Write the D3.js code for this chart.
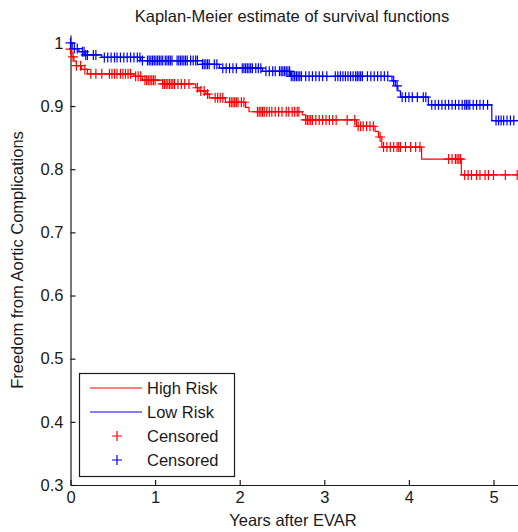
<!DOCTYPE html>
<html>
<head>
<meta charset="utf-8">
<script src="https://cdn.jsdelivr.net/npm/d3@7"></script>
<style>
  html, body { margin: 0; padding: 0; background: #fff; }
  svg { display: block; }
  text { font-family: "Liberation Sans", Arial, Helvetica, sans-serif; fill: #1a1a1a; }
</style>
</head>
<body>
<svg id="chart" width="518" height="532"></svg>
<script>
// Kaplan-Meier step curves: event times (years) and survival after each step
const highRiskTimes    = [0, 0.015, 0.04, 0.07, 0.13, 0.2, 0.75, 0.85, 1.09, 1.48, 1.52, 1.6, 1.64, 1.83, 2.07, 2.11, 2.74, 2.78, 3.38, 3.6, 3.64, 3.68, 4.15, 4.62];
const highRiskSurvival = [0.99, 0.978, 0.971, 0.964, 0.958, 0.951, 0.947, 0.941, 0.935, 0.929, 0.924, 0.919, 0.913, 0.906, 0.898, 0.891, 0.886, 0.878, 0.868, 0.860, 0.851, 0.835, 0.816, 0.791];

const lowRiskTimes    = [0, 0.02, 0.1, 0.17, 0.37, 0.83, 1.56, 1.76, 2.27, 2.6, 3.8, 3.84, 3.87, 3.9, 4.23, 4.98];
const lowRiskSurvival = [1.0, 0.991, 0.986, 0.981, 0.977, 0.972, 0.966, 0.960, 0.955, 0.947, 0.940, 0.932, 0.924, 0.914, 0.902, 0.877];

// Censoring times (years)
const highRiskCensored = [0, 0.03, 0.07, 0.12, 0.17, 0.24, 0.3, 0.37, 0.46, 0.49, 0.52, 0.55, 0.59, 0.62, 0.65, 0.68, 0.71,
  0.77, 0.8, 0.83, 0.88, 0.9, 0.92, 0.94, 0.96, 0.98, 1.0, 1.09, 1.11, 1.13, 1.15, 1.17, 1.19, 1.21, 1.23, 1.27, 1.31, 1.35,
  1.4, 1.5, 1.54, 1.58, 1.62, 1.71, 1.74, 1.77, 1.8, 1.88, 1.9, 1.92, 1.94, 1.96, 1.98, 2.02, 2.05, 2.21, 2.23, 2.25, 2.27,
  2.29, 2.32, 2.35, 2.38, 2.42, 2.46, 2.5, 2.55, 2.58, 2.62, 2.65, 2.68, 2.7, 2.78, 2.8, 2.82, 2.84, 2.86, 2.9, 2.94, 2.98,
  3.02, 3.06, 3.1, 3.14, 3.27, 3.36, 3.4, 3.43, 3.46, 3.5, 3.54, 3.58, 3.66, 3.7, 3.74, 3.78, 3.82, 3.86, 3.88, 3.9, 3.96,
  4.02, 4.08, 4.13, 4.47, 4.51, 4.55, 4.57, 4.59, 4.61, 4.66, 4.7, 4.74, 4.8, 4.84, 4.9, 4.94, 5.0, 5.14, 5.28];

const lowRiskCensored = [0, 0.045, 0.08, 0.14, 0.16, 0.18, 0.2, 0.27, 0.3, 0.40, 0.44, 0.48, 0.52, 0.55, 0.59, 0.63, 0.67,
  0.71, 0.75, 0.79, 0.82, 0.85, 0.91, 0.93, 0.95, 0.97, 0.99, 1.01, 1.03, 1.05, 1.07, 1.09, 1.12, 1.14, 1.16, 1.18, 1.2,
  1.26, 1.28, 1.3, 1.32, 1.34, 1.36, 1.38, 1.42, 1.45, 1.48, 1.5, 1.56, 1.58, 1.6, 1.62, 1.64, 1.7, 1.73, 1.8, 1.84, 1.88,
  1.92, 1.96, 2.03, 2.05, 2.07, 2.09, 2.11, 2.13, 2.15, 2.19, 2.22, 2.25, 2.31, 2.35, 2.39, 2.42, 2.47, 2.49, 2.51, 2.53,
  2.55, 2.57, 2.59, 2.61, 2.63, 2.65, 2.67, 2.69, 2.71, 2.73, 2.78, 2.82, 2.86, 2.9, 2.94, 2.98, 3.03, 3.13, 3.16, 3.19,
  3.22, 3.25, 3.28, 3.31, 3.34, 3.37, 3.39, 3.41, 3.43, 3.45, 3.51, 3.55, 3.59, 3.63, 3.67, 3.71, 3.75, 3.82, 3.86, 3.92,
  3.96, 4.0, 4.04, 4.1, 4.17, 4.2, 4.27, 4.31, 4.35, 4.39, 4.43, 4.47, 4.51, 4.55, 4.59, 4.63, 4.66, 4.68, 4.7, 4.72, 4.76,
  4.8, 4.84, 4.88, 4.93, 5.03, 5.06, 5.09, 5.12, 5.16, 5.2, 5.24];

const xTicks = [0, 1, 2, 3, 4, 5];
const yTicks = [0.3, 0.4, 0.5, 0.6, 0.7, 0.8, 0.9, 1];

const legendLabels = ["High Risk", "Low Risk", "Censored", "Censored"];
const RED = "#ff0000", BLUE = "#0000ff";

const svg = d3.select("#chart");
const plotLeft = 70.5, plotBottom = 485, plotTop = 35, plotRight = 518;

const x = d3.scaleLinear().domain([0, 5]).range([plotLeft, 493.5]);
x.domain([0, x.invert(plotRight)]).range([plotLeft, plotRight]);
const y = d3.scaleLinear().domain([0.3, 1.0125]).range([plotBottom, plotTop]);

// Title and axis labels
svg.append("text").attr("x", 292).attr("y", 22).attr("text-anchor", "middle")
  .style("font-size", "16.5px").text("Kaplan-Meier estimate of survival functions");
svg.append("text").attr("x", 293).attr("y", 526).attr("text-anchor", "middle")
  .style("font-size", "16.5px").text("Years after EVAR");
svg.append("text").attr("transform", "translate(23,260) rotate(-90)").attr("text-anchor", "middle")
  .style("font-size", "16.5px").text("Freedom from Aortic Complications");

// Axes with inward ticks
const xAxis = svg.append("g").attr("transform", `translate(0,${plotBottom})`)
  .call(d3.axisBottom(x).tickValues(xTicks).tickFormat(d3.format("d")).tickSizeInner(-5).tickSizeOuter(0).tickPadding(6));
const yAxis = svg.append("g").attr("transform", `translate(${plotLeft},0)`)
  .call(d3.axisLeft(y).tickValues(yTicks).tickFormat(d => d === 1 ? "1" : d3.format(".1f")(d)).tickSizeInner(-5).tickSizeOuter(0).tickPadding(7));
[xAxis, yAxis].forEach(g => {
  g.selectAll("text").style("font-size", "16.5px").style("fill", "#1a1a1a").attr("font-family", null);
  g.selectAll("path, line").attr("stroke", "#1a1a1a").attr("stroke-width", 1.2);
});

// Step-function lookup for placing censor marks on their curve
function survivalAt(times, surv, t) {
  const i = d3.bisectRight(times, t) - 1;
  return surv[Math.max(0, i)];
}

const stepLine = d3.line().x(d => x(d[0])).y(d => y(d[1])).curve(d3.curveStepAfter);
const xEnd = x.domain()[1];

function drawGroup(times, surv, color) {
  const pts = times.map((t, i) => [t, surv[i]]);
  pts.push([xEnd, surv[surv.length - 1]]);
  svg.append("path").datum(pts).attr("d", stepLine)
    .attr("fill", "none").attr("stroke", color).attr("stroke-width", 1.2);
}
function drawCensors(times, surv, censored, color) {
  const half = 5;
  svg.append("g").selectAll("path").data(censored).join("path")
    .attr("d", t => {
      const cx = x(t), cy = y(survivalAt(times, surv, t));
      return `M${cx - half},${cy}H${cx + half}M${cx},${cy - half}V${cy + half}`;
    })
    .attr("stroke", color).attr("stroke-width", 1.2).attr("fill", "none");
}

drawGroup(highRiskTimes, highRiskSurvival, RED);
drawGroup(lowRiskTimes, lowRiskSurvival, BLUE);
drawCensors(highRiskTimes, highRiskSurvival, highRiskCensored, RED);
drawCensors(lowRiskTimes, lowRiskSurvival, lowRiskCensored, BLUE);

// Legend
const lg = svg.append("g");
lg.append("rect").attr("x", 79.5).attr("y", 373.5).attr("width", 155).attr("height", 103)
  .attr("fill", "#fff").attr("stroke", "#1a1a1a").attr("stroke-width", 1.2);
const legendColors = [RED, BLUE, RED, BLUE];
legendLabels.forEach((lab, i) => {
  const cy = 388 + i * 24;
  if (i < 2) {
    lg.append("line").attr("x1", 90).attr("x2", 142).attr("y1", cy).attr("y2", cy)
      .attr("stroke", legendColors[i]).attr("stroke-width", 1.2);
  } else {
    lg.append("path").attr("d", `M${112},${cy}H${122}M${117},${cy - 5}V${cy + 5}`)
      .attr("stroke", legendColors[i]).attr("stroke-width", 1.2);
  }
  lg.append("text").attr("x", 147).attr("y", cy + 6).style("font-size", "16.5px").text(lab);
});
</script>
</body>
</html>
